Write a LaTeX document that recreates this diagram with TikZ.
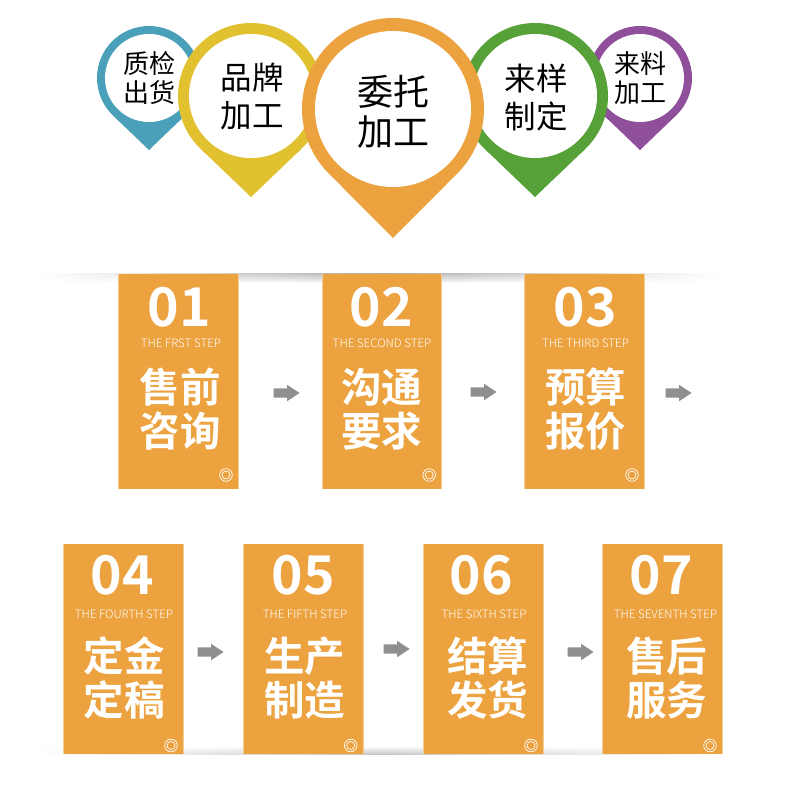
\documentclass[tikz,border=0pt]{standalone}
\usepackage{fontspec}
\setmainfont{Noto Sans CJK SC}[BoldFont={Noto Sans CJK SC Bold}]
\newfontfamily\cjkbold{Noto Sans CJK SC Bold}
\newfontfamily\cjklight{Noto Sans CJK SC Light}
\usetikzlibrary{shapes.arrows,fadings,calc}
\definecolor{cOrange}{HTML}{ECA23E}
\definecolor{cBlue}{HTML}{4AA0B8}
\definecolor{cYellow}{HTML}{E1C12F}
\definecolor{cGreen}{HTML}{57A139}
\definecolor{cPurple}{HTML}{8F4F9B}
\definecolor{cArrow}{HTML}{8F8F8F}
\definecolor{cEdge}{HTML}{F3CD96}
\tikzfading[name=barfade,left color=transparent!100,right color=transparent!100,middle color=transparent!0]
\tikzset{
  x=1pt,y=-1pt,
  steparrow/.style={single arrow,fill=cArrow,draw=none,inner sep=0pt,minimum width=16pt,minimum height=26pt,single arrow head extend=3.5pt,single arrow tip angle=67,anchor=center},
  pintext/.style={black,align=center,inner sep=0pt,anchor=center},
  steptext/.style={white,align=center,inner sep=0pt,anchor=center},
  ringline/.style={draw=white,line width=.7pt},
}
% \mypin{cx}{cy}{r}{inner r}{tip y}{colour}
\newcommand\mypin[6]{%
  \pgfmathsetmacro\pinang{acos(#3/(#5-#2))}%
  \pgfmathsetmacro\pindx{#3*sin(\pinang)}%
  \pgfmathsetmacro\pindy{#3*cos(\pinang)}%
  \fill[#6] (#1,#2) circle[radius=#3pt];
  \fill[#6] (#1,#5) -- ({#1+\pindx},{#2+\pindy}) -- ({#1-\pindx},{#2+\pindy}) -- cycle;
  \fill[white] (#1,#2) circle[radius=#4pt];
}
% \mycard{name}{x0}{x1}{y0}{y1}{num}{label}{line1}{line2}{num xy}{lab xy}{l1 xy}{l2 xy}
\newcommand\mycard[9]{%
  \def\cn{#1}\def\cxa{#2}\def\cxb{#3}\def\cya{#4}\def\cyb{#5}\def\cnum{#6}\def\clab{#7}\def\cla{#8}\def\clb{#9}\mycardB}
\newcommand\mycardB[4]{%
  \fill[cOrange] (\cxa,\cya) rectangle (\cxb,\cyb);
  \draw[cEdge,line width=.5pt] (\cxa,\cya) -- (\cxa,\cyb) (\cxb,\cya) -- (\cxb,\cyb);
  \node[steptext] (\cn num) at (#1) {\fontsize{53.5}{60}\selectfont\cjkbold\cnum};
  \node[steptext] (\cn lab) at (#2) {\fontsize{11.6}{13}\selectfont\cjklight\clab};
  \node[steptext] (\cn a) at (#3) {\fontsize{40.5}{44}\selectfont\cjkbold\cla};
  \node[steptext] (\cn b) at (#4) {\fontsize{40.5}{44}\selectfont\cjkbold\clb};
  \draw[ringline] (\cxb-12.3,\cyb-\ringoff) circle[radius=6.3pt] (\cxb-12.3,\cyb-\ringoff) circle[radius=4pt];
}
\begin{document}
\begin{tikzpicture}
\useasboundingbox (0,0) rectangle (790,808);
\fill[white] (0,0) rectangle (790,808);
% shadows
\shade[top color=black!32,bottom color=white,path fading=barfade] (40,273) rectangle (720,283);
\shade[top color=white,bottom color=black!22,path fading=barfade] (40,746) rectangle (722,754);
% pins
\mypin{149}{78}{52}{44}{150}{cBlue}
\mypin{640}{78}{52}{44}{150}{cPurple}
\mypin{251}{96}{73}{62}{197}{cYellow}
\mypin{535}{96}{73}{62}{197}{cGreen}
\mypin{393}{109}{91}{78}{238}{cOrange}
\node[pintext] (pa1) at (149,64) {\fontsize{26}{30}\selectfont 质检};
\node[pintext] (pa2) at (149,93) {\fontsize{26}{30}\selectfont 出货};
\node[pintext] (pb1) at (252,78) {\fontsize{31.5}{36}\selectfont 品牌};
\node[pintext] (pb2) at (252,116) {\fontsize{31.5}{36}\selectfont 加工};
\node[pintext] (pc1) at (393,92) {\fontsize{36}{40}\selectfont 委托};
\node[pintext] (pc2) at (393,132) {\fontsize{36}{40}\selectfont 加工};
\node[pintext] (pd1) at (536,78) {\fontsize{31.5}{36}\selectfont 来样};
\node[pintext] (pd2) at (536,116) {\fontsize{31.5}{36}\selectfont 制定};
\node[pintext] (pe1) at (640,64) {\fontsize{26}{30}\selectfont 来料};
\node[pintext] (pe2) at (640,93) {\fontsize{26}{30}\selectfont 加工};
% cards row 1
\def\ringoff{14}
\mycard{s1}{118.7}{238.3}{274}{489}{01}{THE FRST STEP}{售前}{咨询}{179,307}{181,343}{180,387}{180,431}
\mycard{s2}{322}{441.5}{274}{489}{02}{THE SECOND STEP}{沟通}{要求}{381.5,307}{382,343}{381.5,387}{381.5,431}
\mycard{s3}{524.7}{644.3}{274}{489}{03}{THE THIRD STEP}{预算}{报价}{585,307}{585.5,343}{585.5,387}{585.5,431}
% cards row 2
\def\ringoff{8.5}
\mycard{s4}{63.7}{183.3}{544}{754}{04}{THE FOURTH STEP}{定金}{定稿}{122,575}{124,614}{124,656}{124,700}
\mycard{s5}{243}{363}{544}{754}{05}{THE FIFTH STEP}{生产}{制造}{303.5,575}{305,614}{304.5,656}{304.5,700}
\mycard{s6}{423.7}{543.3}{544}{754}{06}{THE SIXTH STEP}{结算}{发货}{481.5,575}{484,614}{487.5,656}{487.5,700}
\mycard{s7}{602.7}{722.3}{544}{754}{07}{THE SEVENTH STEP}{售后}{服务}{661.5,575}{665.5,614}{666.5,656}{666.5,700}
% arrows
\node[steparrow] (ar1) at (283,393) {\rule{0pt}{9pt}};
\node[steparrow] (ar2) at (480,392) {\rule{0pt}{9pt}};
\node[steparrow] (ar3) at (675,393) {\rule{0pt}{9pt}};
\node[steparrow] (ar4) at (207,652) {\rule{0pt}{9pt}};
\node[steparrow] (ar5) at (393,649) {\rule{0pt}{9pt}};
\node[steparrow] (ar6) at (577,652) {\rule{0pt}{9pt}};
\end{tikzpicture}
\end{document}
